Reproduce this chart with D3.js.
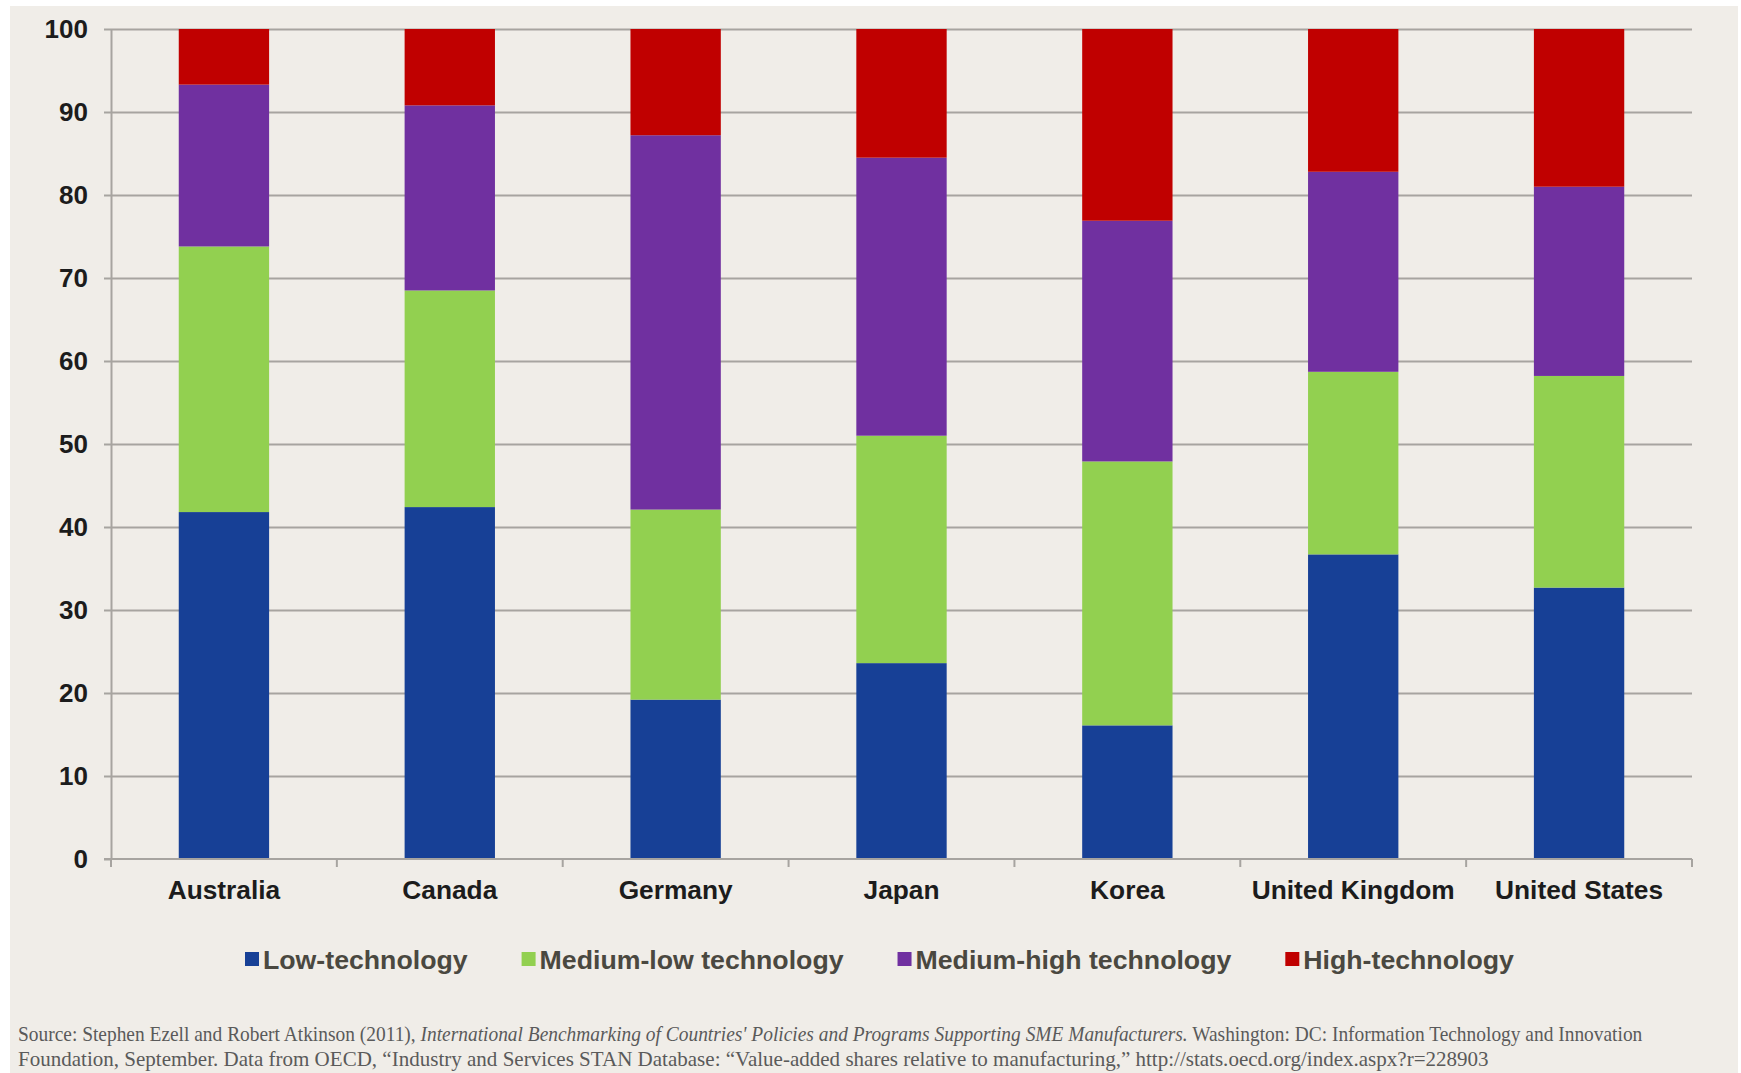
<!DOCTYPE html>
<html>
<head>
<meta charset="utf-8">
<script src="https://cdn.jsdelivr.net/npm/d3@7"></script>
<style>
  html, body { margin: 0; padding: 0; background: #ffffff; }
  svg { display: block; }
</style>
</head>
<body>
<svg id="chart" width="1741" height="1073"></svg>
<script>
// Share of manufacturing value added by technology intensity (%)
const countries = ["Australia", "Canada", "Germany", "Japan", "Korea", "United Kingdom", "United States"];
const seriesNames = ["Low-technology", "Medium-low technology", "Medium-high technology", "High-technology"];
const lowTech        = [41.8, 42.4, 19.2, 23.6, 16.1, 36.7, 32.7];
const mediumLowTech  = [32.0, 26.1, 22.9, 27.4, 31.8, 22.0, 25.5];
const mediumHighTech = [19.5, 22.3, 45.1, 33.5, 29.0, 24.1, 22.8];
const highTech       = [6.7, 9.2, 12.8, 15.5, 23.1, 17.2, 19.0];
const yTicks = [0, 10, 20, 30, 40, 50, 60, 70, 80, 90, 100];
const seriesColors = ["#174096", "#92D050", "#7030A0", "#C00000"];

const sourceLine1 = [
  { text: "Source: Stephen Ezell and Robert Atkinson (2011), ", italic: false },
  { text: "International Benchmarking of Countries' Policies and Programs Supporting SME Manufacturers.", italic: true },
  { text: " Washington: DC: Information Technology and Innovation", italic: false }
];
const sourceLine2 = [
  { text: "Foundation, September. Data from OECD, \u201CIndustry and Services STAN Database: \u201CValue-added shares relative to manufacturing,\u201D http://stats.oecd.org/index.aspx?r=228903", italic: false }
];

// Build rows for the stack layout
const seriesArrays = [lowTech, mediumLowTech, mediumHighTech, highTech];
const rows = countries.map((c, i) => {
  const r = { country: c };
  seriesNames.forEach((s, k) => { r[s] = seriesArrays[k][i]; });
  return r;
});

const svg = d3.select("#chart");
const W = 1741, H = 1073;
const plot = { left: 111, right: 1692, top: 29, bottom: 859 };

// Page background panel
svg.append("rect").attr("x", 10).attr("y", 6).attr("width", 1728).attr("height", H - 6)
  .attr("fill", "#F0EDE8");

const x = d3.scaleBand().domain(countries).range([plot.left, plot.right])
  .paddingInner(0.6).paddingOuter(0.3);
const y = d3.scaleLinear().domain([0, 100]).range([plot.bottom, plot.top]);

const gridColor = "#A7A4A0";

// Horizontal gridlines
const grid = svg.append("g").attr("transform", `translate(${plot.left},0)`)
  .call(d3.axisLeft(y).tickValues(yTicks.filter(t => t > 0)).tickSize(-(plot.right - plot.left)).tickFormat(""));
grid.select(".domain").remove();
grid.selectAll(".tick line").attr("stroke", gridColor).attr("stroke-width", 2);

// Stacked bars
const stacked = d3.stack().keys(seriesNames)(rows);
svg.append("g").selectAll("g").data(stacked).join("g")
  .attr("fill", (d, i) => seriesColors[i])
  .selectAll("rect").data(d => d).join("rect")
  .attr("x", d => x(d.data.country))
  .attr("width", x.bandwidth())
  .attr("y", d => y(d[1]))
  .attr("height", d => y(d[0]) - y(d[1]));

// Y axis
const yAxis = svg.append("g").attr("transform", `translate(${plot.left},0)`)
  .call(d3.axisLeft(y).tickValues(yTicks).tickSize(7).tickPadding(16).tickSizeOuter(0));
yAxis.select(".domain").attr("stroke", gridColor).attr("stroke-width", 2);
yAxis.selectAll(".tick line").attr("stroke", gridColor).attr("stroke-width", 2);
yAxis.selectAll(".tick text")
  .attr("font-family", "'Liberation Sans', Arial, sans-serif")
  .attr("font-weight", "bold").attr("font-size", 26).attr("fill", "#1C1C1C");

// X axis baseline with ticks at category boundaries
const step = x.step();
const boundaries = d3.range(countries.length + 1).map(i => plot.left + i * step);
svg.append("line").attr("x1", plot.left - 7).attr("x2", plot.right)
  .attr("y1", y(0)).attr("y2", y(0)).attr("stroke", gridColor).attr("stroke-width", 2);
svg.append("g").selectAll("line").data(boundaries).join("line")
  .attr("x1", d => d).attr("x2", d => d)
  .attr("y1", y(0)).attr("y2", y(0) + 8)
  .attr("stroke", gridColor).attr("stroke-width", 2);

const xAxis = svg.append("g").attr("transform", `translate(0,${plot.bottom})`)
  .call(d3.axisBottom(x).tickSize(0));
xAxis.select(".domain").remove();
xAxis.selectAll(".tick text")
  .attr("y", 40).attr("dy", null)
  .attr("font-family", "'Liberation Sans', Arial, sans-serif")
  .attr("font-weight", "bold").attr("font-size", 26.3).attr("fill", "#1C1C1C");

// Legend
const legend = svg.append("g");
let lx = 245;
const legendY = 959;
seriesNames.forEach((name, i) => {
  legend.append("rect").attr("x", lx).attr("y", legendY - 7).attr("width", 14).attr("height", 14)
    .attr("fill", seriesColors[i]);
  const t = legend.append("text").attr("x", lx + 18).attr("y", legendY + 9.5)
    .attr("font-family", "'Liberation Sans', Arial, sans-serif")
    .attr("font-weight", "bold").attr("font-size", 26.7).attr("fill", "#4A4840")
    .text(name);
  lx += 18 + t.node().getComputedTextLength() + 54;
});

// Source note, fitted to its line width
function sourceText(parts, baseline, targetWidth) {
  const t = svg.append("text").attr("x", 0).attr("y", 0)
    .attr("font-family", "'Liberation Serif', 'Times New Roman', serif")
    .attr("font-size", 20).attr("fill", "#5A5A5A");
  parts.forEach(p => {
    t.append("tspan").attr("font-style", p.italic ? "italic" : "normal").text(p.text);
  });
  const w = t.node().getComputedTextLength();
  t.attr("transform", `translate(18,${baseline}) scale(${targetWidth / w},1)`);
}
sourceText(sourceLine1, 1041, 1625);
sourceText(sourceLine2, 1066, 1471);
</script>
</body>
</html>
